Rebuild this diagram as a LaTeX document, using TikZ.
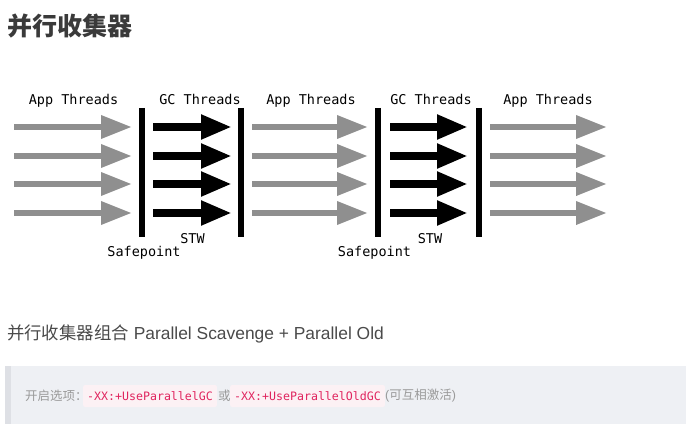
\documentclass[tikz,border=0pt]{standalone}
\usepackage{fontspec}
\setmainfont{Liberation Sans}
\newfontfamily\cjk{Noto Sans CJK SC}
\newfontfamily\mono{DejaVu Sans Mono}
\usetikzlibrary{arrows.meta,positioning}
\definecolor{appgray}{HTML}{8F8F8F}
\definecolor{titlegray}{HTML}{3A3A3A}
\definecolor{textgray}{HTML}{4A4A4A}
\definecolor{hintgray}{HTML}{9A9A9A}
\definecolor{boxbg}{HTML}{EEF0F4}
\definecolor{boxbar}{HTML}{DEE0E5}
\definecolor{codebg}{HTML}{FCF1F4}
\definecolor{codered}{HTML}{E0245E}

\begin{document}
\begin{tikzpicture}[
  x=1pt,
  y=-1pt,
  lbl/.style={font=\mono\fontsize{13.5}{16}\selectfont, inner sep=0pt, anchor=base},
  app/.style={line width=6.5pt, draw=appgray, -{Triangle[length=31pt,width=22pt]}},
  gc/.style={line width=8pt, -{Triangle[length=31pt,width=23pt]}},
  bar/.style={line width=6pt},
  hint/.style={font=\cjk\fontsize{12.5}{15}\selectfont, text=hintgray, inner sep=0pt, anchor=west},
  code/.style={font=\mono\fontsize{11.6}{14}\selectfont, text=codered, fill=codebg, rounded corners=2pt, inner xsep=4pt, minimum height=22pt, anchor=west}
]
  \useasboundingbox (0,0) rectangle (686,428);

  \node[anchor=west, inner sep=0pt, text=titlegray, font=\cjk\bfseries\fontsize{25}{30}\selectfont] (title) at (7,26) {并行收集器};

  \node[lbl] (app1) at (73.5,104) {App Threads};
  \node[lbl] (gc1) at (200,104) {GC Threads};
  \node[lbl] (app2) at (311,104) {App Threads};
  \node[lbl] (gc2) at (431,104) {GC Threads};
  \node[lbl] (app3) at (548,104) {App Threads};

  \foreach \y in {127,156,184,213} {
    \draw[app] (14,\y) -- (132,\y);
    \draw[gc] (153,\y) -- (232,\y);
    \draw[app] (252,\y) -- (368,\y);
    \draw[gc] (390,\y) -- (468,\y);
    \draw[app] (490,\y) -- (607,\y);
  }

  \draw[bar] (142,108) -- (142,237);
  \draw[bar] (241,108) -- (241,237);
  \draw[bar] (378,108) -- (378,237);
  \draw[bar] (479,108) -- (479,237);

  \node[lbl] (stw1) at (192.5,243) {STW};
  \node[lbl] (safe1) at (144,256) {Safepoint};
  \node[lbl] (stw2) at (430,243) {STW};
  \node[lbl] (safe2) at (374.5,256) {Safepoint};

  \node[anchor=west, inner sep=0pt, text=textgray, font=\fontsize{17.4}{20}\selectfont] (combo) at (7,334) {{\cjk 并行收集器组合} Parallel Scavenge + Parallel Old};

  \fill[boxbg] (5,366) rectangle (686,424);
  \fill[boxbar] (5,366) rectangle (11,424);

  \node[hint] (opt) at (25,396) {开启选项：};
  \node[code] (code1) at (83,396) {-XX:+UseParallelGC};
  \node[hint] (or) at (218,396) {或};
  \node[code] (code2) at (230,396) {-XX:+UseParallelOldGC};
  \node[hint] (note) at (385,396) {{\rmfamily(}可互相激活{\rmfamily)}};
\end{tikzpicture}
\end{document}
